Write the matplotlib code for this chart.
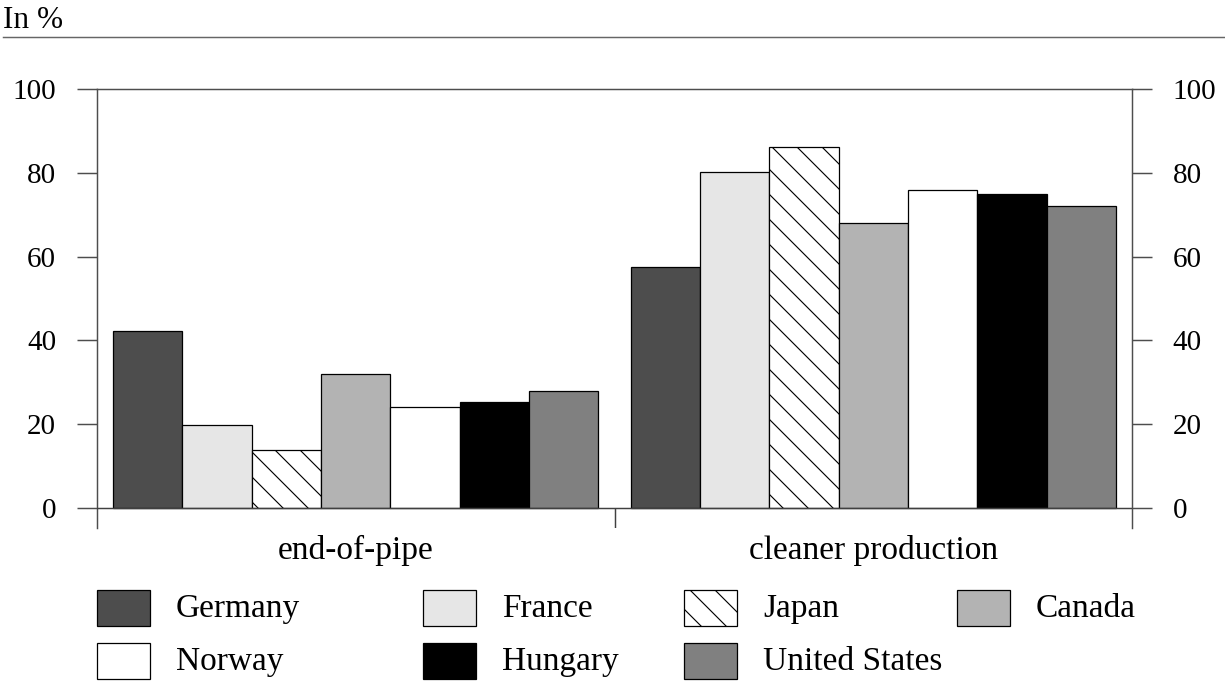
import numpy as np
import matplotlib
matplotlib.use("Agg")
import matplotlib.pyplot as plt
from matplotlib.patches import Rectangle
from matplotlib.lines import Line2D

## data (share of firms, in %)
categories = ["end-of-pipe", "cleaner production"]
countries = ["Germany", "France", "Japan", "Canada", "Norway", "Hungary", "United States"]
germany = [42.3, 57.5]
france = [19.8, 80.1]
japan = [13.8, 86.2]
canada = [31.9, 68.1]
norway = [24.0, 76.0]
hungary = [25.2, 75.0]
united_states = [28.0, 72.0]
series = [germany, france, japan, canada, norway, hungary, united_states]

## styles
fills = ["#4d4d4d", "#e6e6e6", "white", "#b3b3b3", "white", "black", "#808080"]
hatches = [None, None, "\\\\", None, None, None, None]

W, H, DPI = 1225, 681, 150
plt.rcParams["font.family"] = ["Liberation Serif", "DejaVu Serif"]
plt.rcParams["hatch.linewidth"] = 0.55
plt.rcParams["hatch.color"] = "black"

fig = plt.figure(figsize=(W / DPI, H / DPI), dpi=DPI)
ax = fig.add_axes([97 / W, 1 - 528 / H, (1132 - 97) / W, (528 - 89) / H])

x = np.arange(len(categories))
w = 0.134
for i, (vals, col, hat) in enumerate(zip(series, fills, hatches)):
    ax.bar(x + (i - 3) * w, vals, width=w, color=col, edgecolor="black",
           linewidth=0.6, hatch=hat, zorder=3)

ymin = -4.77
ax.set_xlim(-0.5, 1.5)
ax.set_ylim(ymin, 100)
ax.axhline(0, color="0.25", lw=0.7, zorder=4)
ax.vlines(0.5, ymin, 0, color="0.25", lw=0.7)

spine_col = "0.3"
for s in ["left", "right", "top"]:
    ax.spines[s].set_color(spine_col)
    ax.spines[s].set_linewidth(0.7)
ax.spines["bottom"].set_visible(False)

ax.set_yticks([0, 20, 40, 60, 80, 100])
ax.tick_params(axis="y", which="both", direction="out", length=9.6, width=0.7,
               color=spine_col, labelsize=14, pad=10, left=True, right=True,
               labelleft=True, labelright=True)
ax.set_xticks(x)
ax.set_xticklabels(categories)
ax.tick_params(axis="x", length=0, labelsize=16, pad=3.5)

## header
fig.text(3 / W, 1 - 28 / H, "In %", fontsize=15, va="baseline", ha="left")
fig.add_artist(Line2D([3 / W, 1], [1 - 36.7 / H, 1 - 36.7 / H],
                      transform=fig.transFigure, color="0.4", lw=0.7))

## legend, laid out by hand to match the reference
col_x = [97, 423, 684, 957]
row_y = [590, 643]
pw, ph = 53, 36
for k, name in enumerate(countries):
    r, c = divmod(k, 4)
    px, py = col_x[c], row_y[r]
    fig.add_artist(Rectangle((px / W, 1 - (py + ph) / H), pw / W, ph / H,
                             transform=fig.transFigure, facecolor=fills[k],
                             edgecolor="black", lw=0.6, hatch=hatches[k]))
    fig.text((px + 79) / W, 1 - (py + ph / 2 + 1) / H, name, fontsize=16,
             va="center", ha="left")

fig.savefig("out.png", dpi=DPI)
